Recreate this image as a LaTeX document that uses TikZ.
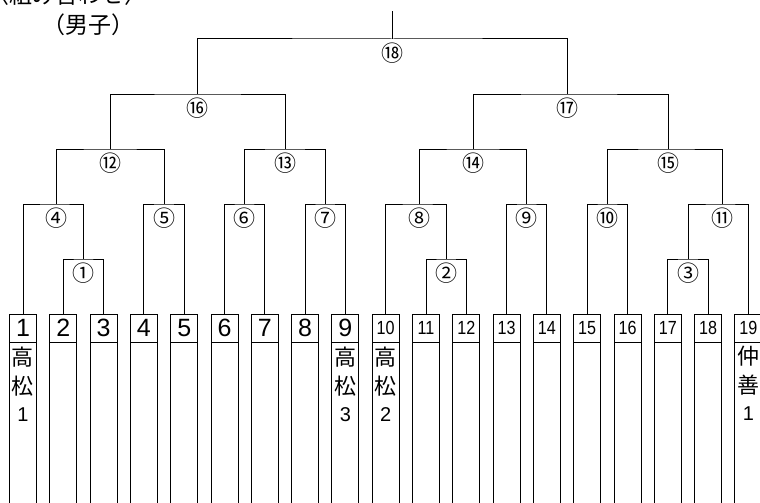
\documentclass[tikz,border=0pt]{standalone}
\usepackage{fontspec}
\usepackage{graphicx}
\newfontfamily\jpfont{Noto Sans CJK JP}
\newfontfamily\numfont{Liberation Sans}
\usetikzlibrary{positioning}
\begin{document}
\begin{tikzpicture}[x=1pt,y=-1pt,line width=1pt,
        numbox/.style={draw,minimum width=27pt,minimum height=28pt,inner sep=0pt,outer sep=0pt},
        namebox/.style={draw,minimum width=27pt,minimum height=190pt,inner sep=0pt,outer sep=0pt},
        rnd/.style={font=\jpfont\fontsize{22}{22}\selectfont,inner sep=0pt},
        teamname/.style={anchor=north,align=center,inner sep=0pt,font=\jpfont\fontsize{22}{29}\selectfont},
        heading/.style={font=\jpfont\fontsize{23}{23}\selectfont,inner sep=0pt}]
                        \useasboundingbox (0,0) rectangle (760,503);
                        \node[heading] (title) at (67,-5) {〈組み合わせ〉};
                        \node[heading] (sex) at (88,25) {（男子）};
                        \foreach \i in {1,...,19}{
                            \node[numbox] (b\i) at ({23+(\i-1)*40.3},328)
                            {\numfont\ifnum\i<10 \fontsize{25}{25}\selectfont\i\else\fontsize{19}{19}\selectfont\scalebox{0.85}[1]{\i}\fi};
                            \node[namebox,below=0pt of b\i] (n\i) {};
                        }
                        \node[teamname] (t1) at ([yshift=-4pt]n1.north) {高\\松\\[-2pt]{\numfont\fontsize{20}{20}\selectfont 1}};
                        \node[teamname] (t9) at ([yshift=-4pt]n9.north) {高\\松\\[-2pt]{\numfont\fontsize{20}{20}\selectfont 3}};
                        \node[teamname] (t10) at ([yshift=-4pt]n10.north) {高\\松\\[-2pt]{\numfont\fontsize{20}{20}\selectfont 2}};
                        \node[teamname] (t19) at ([yshift=-4pt]n19.north) {仲\\善\\[-2pt]{\numfont\fontsize{20}{20}\selectfont 1}};
                        \coordinate (m1) at (83.45,259);
                        \coordinate (m2) at (446.15,259);
                        \coordinate (m3) at (688,259);
                        \coordinate (m4) at (56,204);
                        \coordinate (m5) at (164,204);
                        \coordinate (m6) at (244.6,204);
                        \coordinate (m7) at (325.2,204);
                        \coordinate (m8) at (419.3,204);
                        \coordinate (m9) at (526.8,204);
                        \coordinate (m10) at (607.4,204);
                        \coordinate (m11) at (722.3,204);
                        \coordinate (m12) at (110,149);
                        \coordinate (m13) at (285,149);
                        \coordinate (m14) at (473.2,149);
                        \coordinate (m15) at (668,149);
                        \coordinate (m16) at (197.5,94);
                        \coordinate (m17) at (567.3,94);
                        \coordinate (m18) at (392.7,39);
                        \coordinate (top) at (392.7,11);
                        \draw (b2.north) |- (m1) -| (b3.north);
                        \draw (b11.north) |- (m2) -| (b12.north);
                        \draw (b17.north) |- (m3) -| (b18.north);
                        \draw (b1.north) |- (m4) -| (m1);
                        \draw (b4.north) |- (m5) -| (b5.north);
                        \draw (b6.north) |- (m6) -| (b7.north);
                        \draw (b8.north) |- (m7) -| (b9.north);
                        \draw (b10.north) |- (m8) -| (m2);
                        \draw (b13.north) |- (m9) -| (b14.north);
                        \draw (b15.north) |- (m10) -| (b16.north);
                        \draw (m3) |- (m11) -| (b19.north);
                        \draw (m4) |- (m12) -| (m5);
                        \draw (m6) |- (m13) -| (m7);
                        \draw (m8) |- (m14) -| (m9);
                        \draw (m10) |- (m15) -| (m11);
                        \draw (m12) |- (m16) -| (m13);
                        \draw (m14) |- (m17) -| (m15);
                        \draw (m16) |- (m18) -| (m17);
                        \draw (m18) -- (top);
                        \foreach \k/\c in {1/①,2/②,3/③,4/④,5/⑤,6/⑥,7/⑦,8/⑧,9/⑨,10/⑩,11/⑪,12/⑫,13/⑬,14/⑭,15/⑮,16/⑯,17/⑰,18/⑱}
                            \node[rnd,below=3pt of m\k] (r\k) {\c};
                    \end{tikzpicture}
\end{document}
